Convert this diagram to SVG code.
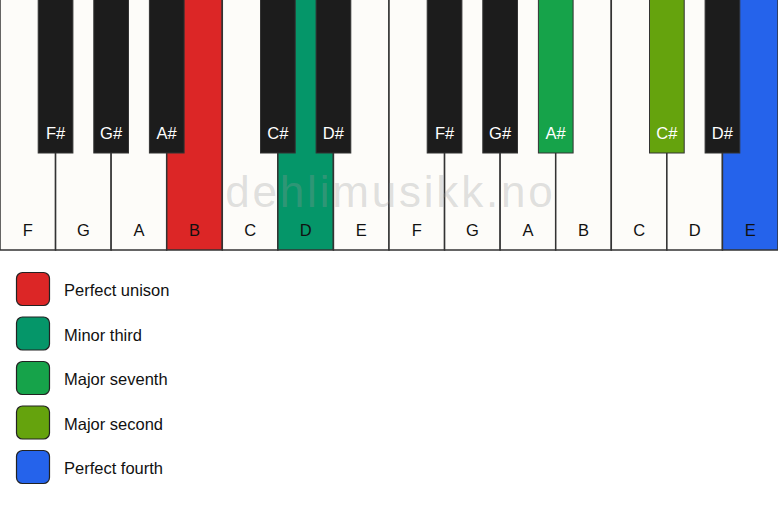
<svg xmlns="http://www.w3.org/2000/svg" width="778" height="506" viewBox="0 0 778 506">
<style>
.w{fill:#fdfcf9;stroke:#333;stroke-width:1.5}
.b{fill:#1c1c1c;stroke:#333;stroke-width:1}
.wl{font-family:"Liberation Sans",Arial,sans-serif;font-size:16.5px;fill:#111;text-anchor:middle}
.bl{font-family:"Liberation Sans",Arial,sans-serif;font-size:16.5px;fill:#fff;text-anchor:middle}
.lg{font-family:"Liberation Sans",Arial,sans-serif;font-size:16.5px;fill:#111}
.sw{stroke:#222;stroke-width:1.2}
.wm{font-family:"Liberation Sans",Arial,sans-serif;font-size:44px;fill:#999;fill-opacity:0.3;text-anchor:middle;letter-spacing:2.8px}
</style>
<rect width="778" height="506" fill="#ffffff"/>
<g id="white-keys">
<g id="w-F1"><rect class="w" x="0" y="-2" width="55.57" height="252"/><text class="wl" x="27.8" y="236">F</text></g>
<g id="w-G1"><rect class="w" x="55.57" y="-2" width="55.57" height="252"/><text class="wl" x="83.4" y="236">G</text></g>
<g id="w-A1"><rect class="w" x="111.14" y="-2" width="55.57" height="252"/><text class="wl" x="138.9" y="236">A</text></g>
<g id="w-B1"><rect class="w" x="166.71" y="-2" width="55.57" height="252" style="fill:#dc2626"/><text class="wl" x="194.5" y="236">B</text></g>
<g id="w-C1"><rect class="w" x="222.29" y="-2" width="55.57" height="252"/><text class="wl" x="250.1" y="236">C</text></g>
<g id="w-D1"><rect class="w" x="277.86" y="-2" width="55.57" height="252" style="fill:#059669"/><text class="wl" x="305.6" y="236">D</text></g>
<g id="w-E1"><rect class="w" x="333.43" y="-2" width="55.57" height="252"/><text class="wl" x="361.2" y="236">E</text></g>
<g id="w-F2"><rect class="w" x="389" y="-2" width="55.57" height="252"/><text class="wl" x="416.8" y="236">F</text></g>
<g id="w-G2"><rect class="w" x="444.57" y="-2" width="55.57" height="252"/><text class="wl" x="472.4" y="236">G</text></g>
<g id="w-A2"><rect class="w" x="500.14" y="-2" width="55.57" height="252"/><text class="wl" x="527.9" y="236">A</text></g>
<g id="w-B2"><rect class="w" x="555.71" y="-2" width="55.57" height="252"/><text class="wl" x="583.5" y="236">B</text></g>
<g id="w-C2"><rect class="w" x="611.29" y="-2" width="55.57" height="252"/><text class="wl" x="639.1" y="236">C</text></g>
<g id="w-D2"><rect class="w" x="666.86" y="-2" width="55.57" height="252"/><text class="wl" x="694.6" y="236">D</text></g>
<g id="w-E2"><rect class="w" x="722.43" y="-2" width="55.57" height="252" style="fill:#2563eb"/><text class="wl" x="750.2" y="236">E</text></g>
</g>
<text id="watermark" class="wm" x="390.4" y="207">dehlimusikk.no</text>
<g id="black-keys">
<g id="b-Fs1"><rect class="b" x="38.2" y="-2" width="34.7" height="155"/><text class="bl" x="55.6" y="139">F#</text></g>
<g id="b-Gs1"><rect class="b" x="93.8" y="-2" width="34.7" height="155"/><text class="bl" x="111.1" y="139">G#</text></g>
<g id="b-As1"><rect class="b" x="149.4" y="-2" width="34.7" height="155"/><text class="bl" x="166.7" y="139">A#</text></g>
<g id="b-Cs1"><rect class="b" x="260.5" y="-2" width="34.7" height="155"/><text class="bl" x="277.9" y="139">C#</text></g>
<g id="b-Ds1"><rect class="b" x="316.1" y="-2" width="34.7" height="155"/><text class="bl" x="333.4" y="139">D#</text></g>
<g id="b-Fs2"><rect class="b" x="427.2" y="-2" width="34.7" height="155"/><text class="bl" x="444.6" y="139">F#</text></g>
<g id="b-Gs2"><rect class="b" x="482.8" y="-2" width="34.7" height="155"/><text class="bl" x="500.1" y="139">G#</text></g>
<g id="b-As2"><rect class="b" x="538.4" y="-2" width="34.7" height="155" style="fill:#16a34a"/><text class="bl" x="555.7" y="139">A#</text></g>
<g id="b-Cs2"><rect class="b" x="649.5" y="-2" width="34.7" height="155" style="fill:#65a30d"/><text class="bl" x="666.9" y="139">C#</text></g>
<g id="b-Ds2"><rect class="b" x="705.1" y="-2" width="34.7" height="155"/><text class="bl" x="722.4" y="139">D#</text></g>
</g>
<g id="legend">
<g id="lg-unison"><rect class="sw" x="16.5" y="272.5" width="33" height="33" rx="6" fill="#dc2626"/><text class="lg" x="64" y="296">Perfect unison</text></g>
<g id="lg-minor3"><rect class="sw" x="16.5" y="317" width="33" height="33" rx="6" fill="#059669"/><text class="lg" x="64" y="340.5">Minor third</text></g>
<g id="lg-major7"><rect class="sw" x="16.5" y="361.5" width="33" height="33" rx="6" fill="#16a34a"/><text class="lg" x="64" y="385">Major seventh</text></g>
<g id="lg-major2"><rect class="sw" x="16.5" y="406" width="33" height="33" rx="6" fill="#65a30d"/><text class="lg" x="64" y="429.5">Major second</text></g>
<g id="lg-p4"><rect class="sw" x="16.5" y="450.5" width="33" height="33" rx="6" fill="#2563eb"/><text class="lg" x="64" y="474">Perfect fourth</text></g>
</g>
</svg>
